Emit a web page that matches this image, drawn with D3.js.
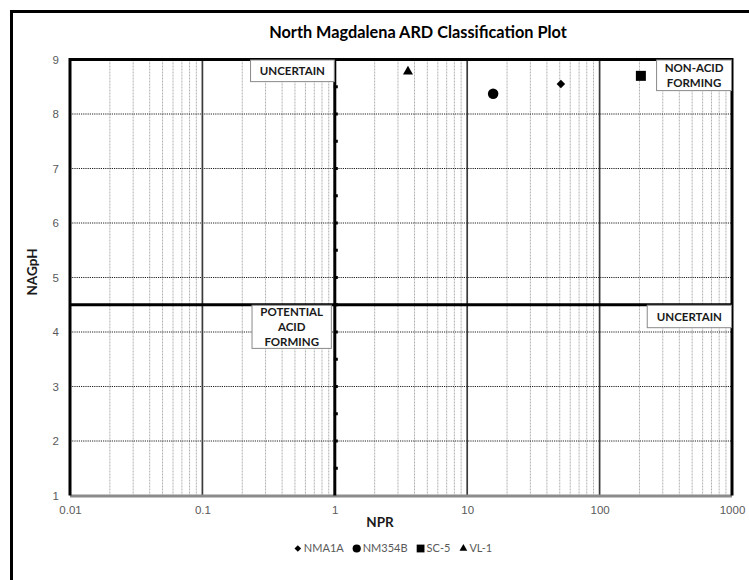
<!DOCTYPE html>
<html>
<head>
<meta charset="utf-8">
<script src="https://cdn.jsdelivr.net/npm/d3@7"></script>
<style>
  html, body { margin: 0; padding: 0; background: #fff; }
  svg { display: block; font-family: Lato, "Open Sans", "Liberation Sans", sans-serif; }
</style>
</head>
<body>
<svg id="chart" width="749" height="580"></svg>
<script>
// Samples: NPR (x, log scale) and NAGpH (y)
const seriesNames = ["NMA1A", "NM354B", "SC-5", "VL-1"];
const nprValues   = [51, 15.7, 205, 3.57];
const nagphValues = [8.55, 8.37, 8.70, 8.78];
const seriesShapes = ["diamond", "circle", "square", "triangle"];

const xTickValues = [0.01, 0.1, 1, 10, 100, 1000];
const xTickLabels = ["0.01", "0.1", "1", "10", "100", "1000"];
const yTickValues = [1, 2, 3, 4, 5, 6, 7, 8, 9];

// classification boundaries
const nprDivider = 1;
const nagphDivider = 4.5;
const dividerMarks = [1.5, 2, 2.5, 3, 3.5, 4, 4.5, 5, 5.5, 6, 6.5, 7, 7.5, 8, 8.5];

// zone label boxes, placed in data coordinates
const zoneLabels = [
  { lines: ["UNCERTAIN"], x0: 0.229, x1: 1, y0: 9, y1: 8.585 },
  { lines: ["NON-ACID", "FORMING"], x0: 267, x1: 1000, y0: 9, y1: 8.42 },
  { lines: ["POTENTIAL", "ACID", "FORMING"], x0: 0.235, x1: 0.95, y0: 4.5, y1: 3.69 },
  { lines: ["UNCERTAIN"], x0: 227, x1: 1000, y0: 4.5, y1: 4.07 }
];

const svg = d3.select("#chart");

const x = d3.scaleLog().domain([0.01, 1000]).range([70, 732]);
const y = d3.scaleLinear().domain([1, 9]).range([495.5, 59.5]);

// outer chart frame
svg.append("path")
  .attr("d", "M11.5,590 V11.5 H760")
  .attr("fill", "none").attr("stroke", "#000").attr("stroke-width", 3);

// title
svg.append("text")
  .attr("x", 418).attr("y", 38)
  .attr("text-anchor", "middle")
  .attr("font-size", 16.3).attr("font-weight", "bold").attr("fill", "#000")
  .text("North Magdalena ARD Classification Plot");

const grid = svg.append("g");

// minor vertical gridlines (2..9 within each decade)
const minorX = [];
for (let d = 0.01; d < 1000; d *= 10) {
  for (let m = 2; m <= 9; m++) minorX.push(+(d * m).toPrecision(3));
}
grid.selectAll("line.minor").data(minorX).join("line")
  .attr("class", "minor")
  .attr("x1", d => x(d)).attr("x2", d => x(d))
  .attr("y1", y(9)).attr("y2", y(1))
  .attr("stroke", "#b0b0b0").attr("stroke-width", 1)
  .attr("stroke-dasharray", "2,1");

// horizontal gridlines
grid.selectAll("line.hgrid").data(yTickValues.filter(v => v > 1 && v < 9)).join("line")
  .attr("class", "hgrid")
  .attr("x1", x(0.01)).attr("x2", x(1000))
  .attr("y1", d => y(d)).attr("y2", d => y(d))
  .attr("stroke", "#222").attr("stroke-width", 1)
  .attr("stroke-dasharray", "1.2,1");

// decade gridlines
grid.selectAll("line.decade").data([0.1, 10, 100]).join("line")
  .attr("class", "decade")
  .attr("x1", d => x(d)).attr("x2", d => x(d))
  .attr("y1", y(9)).attr("y2", y(1))
  .attr("stroke", "#3a3a3a").attr("stroke-width", 1.7);

// plot frame: top, left, right in black, bottom axis in gray
grid.append("line")
  .attr("x1", x(0.01)).attr("x2", x(1000)).attr("y1", y(1) + 0.5).attr("y2", y(1) + 0.5)
  .attr("stroke", "#8c8c8c").attr("stroke-width", 3);
grid.append("path")
  .attr("d", `M${x(0.01)},${y(1)} V${y(9)} H${x(1000)} V${y(1)}`)
  .attr("fill", "none").attr("stroke", "#000").attr("stroke-width", 3);

// classification dividers
grid.append("line")
  .attr("x1", x(nprDivider)).attr("x2", x(nprDivider))
  .attr("y1", y(9)).attr("y2", y(1))
  .attr("stroke", "#000").attr("stroke-width", 3);
grid.append("line")
  .attr("x1", x(0.01)).attr("x2", x(1000))
  .attr("y1", y(nagphDivider)).attr("y2", y(nagphDivider))
  .attr("stroke", "#000").attr("stroke-width", 3);
grid.selectAll("rect.mark").data(dividerMarks).join("rect")
  .attr("class", "mark")
  .attr("x", x(nprDivider) - 1).attr("y", d => y(d) - 1.5)
  .attr("width", 4).attr("height", 3).attr("fill", "#000");

// zone labels
const zones = svg.append("g");
zoneLabels.forEach(z => {
  const bx = x(z.x0), bw = x(z.x1) - x(z.x0);
  const by = y(z.y0), bh = y(z.y1) - y(z.y0);
  zones.append("rect")
    .attr("x", bx + 0.5).attr("y", by + 0.5).attr("width", bw - 1).attr("height", bh - 1)
    .attr("fill", "#fff").attr("stroke", "#8a8a8a").attr("stroke-width", 1);
  const cx = bx + bw / 2, lh = 15;
  const top = by + bh / 2 - (z.lines.length - 1) * lh / 2;
  z.lines.forEach((t, i) => {
    zones.append("text")
      .attr("x", cx).attr("y", top + i * lh)
      .attr("dy", "0.36em").attr("text-anchor", "middle")
      .attr("font-size", 11.5).attr("font-weight", "bold").attr("fill", "#1a1a1a")
      .text(t);
  });
});

// axes
const yAxis = svg.append("g")
  .attr("transform", `translate(${x(0.01)},0)`)
  .call(d3.axisLeft(y).tickValues(yTickValues).tickSize(0).tickPadding(11).tickFormat(d3.format("d")));
yAxis.select(".domain").remove();
yAxis.selectAll("text").attr("font-size", 11.5).attr("fill", "#595959").attr("font-family", null);

const xAxis = svg.append("g")
  .attr("transform", `translate(0,${y(1)})`)
  .call(d3.axisBottom(x).tickValues(xTickValues).tickSize(0).tickPadding(10)
    .tickFormat((d, i) => xTickLabels[i]));
xAxis.select(".domain").remove();
xAxis.selectAll("text").attr("font-size", 11.5).attr("fill", "#595959").attr("font-family", null);

svg.append("text")
  .attr("x", 380).attr("y", 527)
  .attr("text-anchor", "middle")
  .attr("font-size", 13.5).attr("font-weight", "bold").attr("fill", "#1a1a1a")
  .text("NPR");

svg.append("text")
  .attr("transform", "translate(37,272) rotate(-90)")
  .attr("text-anchor", "middle")
  .attr("font-size", 13.5).attr("font-weight", "bold").attr("fill", "#1a1a1a")
  .text("NAGpH");

// marker shapes
function symbolPath(shape, s) {
  if (shape === "circle") return d3.symbol(d3.symbolCircle, Math.PI * s * s / 4)();
  if (shape === "square") return d3.symbol(d3.symbolSquare, s * s)();
  if (shape === "diamond") return d3.symbol(d3.symbolSquare, s * s / 2)();
  return d3.symbol(d3.symbolTriangle, s * s * Math.sqrt(3) / 4)();
}
const markerSize = { circle: 10.5, square: 10, diamond: 8.5, triangle: 10 };

const points = seriesNames.map((n, i) => ({
  name: n, npr: nprValues[i], nagph: nagphValues[i], shape: seriesShapes[i]
}));

svg.append("g").selectAll("path").data(points).join("path")
  .attr("d", d => symbolPath(d.shape, markerSize[d.shape]))
  .attr("transform", d => `translate(${x(d.npr)},${y(d.nagph)})` + (d.shape === "diamond" ? " rotate(45)" : ""))
  .attr("fill", "#000");

// legend
const legend = svg.append("g").attr("transform", "translate(0,548.5)");
const items = [];
points.forEach(p => {
  const g = legend.append("g");
  g.append("path")
    .attr("d", symbolPath(p.shape, markerSize[p.shape] * 0.78))
    .attr("transform", `translate(4,0)` + (p.shape === "diamond" ? " rotate(45)" : ""))
    .attr("fill", "#000");
  const t = g.append("text").attr("x", 10).attr("dy", "0.36em")
    .attr("font-size", 11).attr("fill", "#595959").text(p.name);
  const w = 10 + t.node().getComputedTextLength();
  items.push({ g, w });
});
const gap = 9;
const total = d3.sum(items, d => d.w) + gap * (items.length - 1);
let lx = 393 - total / 2;
items.forEach(it => {
  it.g.attr("transform", `translate(${lx},0)`);
  lx += it.w + gap;
});
</script>
</body>
</html>
